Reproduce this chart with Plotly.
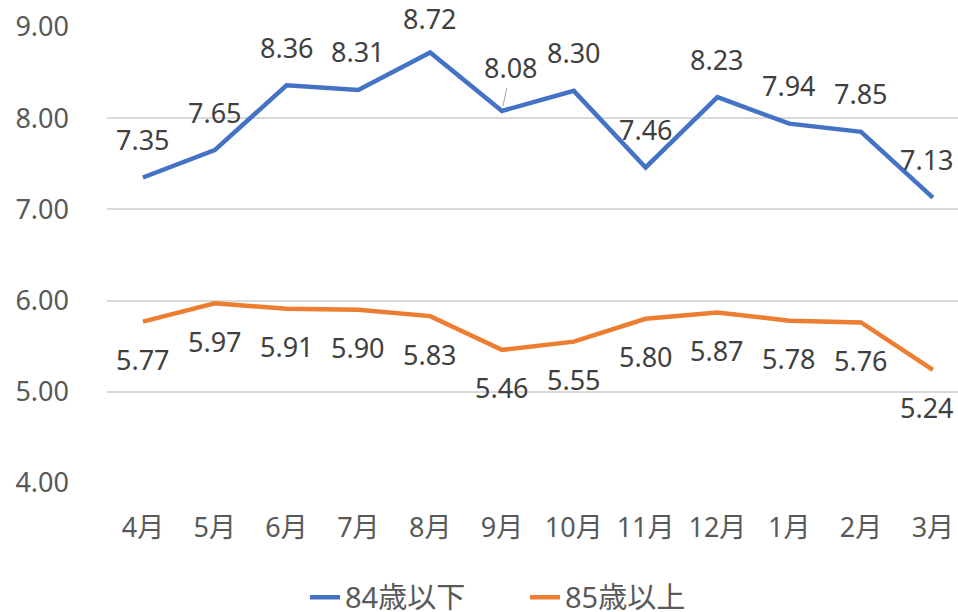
import plotly.graph_objects as go

months = ["4月", "5月", "6月", "7月", "8月", "9月", "10月", "11月", "12月", "1月", "2月", "3月"]
under84 = [7.35, 7.65, 8.36, 8.31, 8.72, 8.08, 8.30, 7.46, 8.23, 7.94, 7.85, 7.13]
over85 = [5.77, 5.97, 5.91, 5.90, 5.83, 5.46, 5.55, 5.80, 5.87, 5.78, 5.76, 5.24]
series_names = ["84歳以下", "85歳以上"]
y_ticks = [4.0, 5.0, 6.0, 7.0, 8.0, 9.0]

BLUE = "#4472C4"
ORANGE = "#ED7D31"
TXT = "#595959"
LBL = "#404040"
FONT = "Noto Sans, Noto Sans CJK JP, sans-serif"
FS = 27

fig = go.Figure()
fig.add_trace(go.Scatter(x=months, y=under84, mode="lines", name=series_names[0],
                         line=dict(color=BLUE, width=4.5), cliponaxis=False))
fig.add_trace(go.Scatter(x=months, y=over85, mode="lines", name=series_names[1],
                         line=dict(color=ORANGE, width=4.5), cliponaxis=False))

top_val = max(under84)
last = months[-1]
annos = []
for m, v in zip(months, under84):
    if m == "9月":
        annos.append(dict(x=m, y=v, text=f"{v:.2f}", showarrow=True, arrowhead=0,
                          arrowwidth=1, arrowcolor="#a6a6a6", ax=9, ay=-43,
                          standoff=5, font=dict(size=FS, color=LBL, family=FONT)))
    else:
        annos.append(dict(x=m, y=v, text=f"{v:.2f}", showarrow=False,
                          yshift=34 if v == top_val else 38,
                          xshift=-6 if m == last else 0,
                          font=dict(size=FS, color=LBL, family=FONT)))
for m, v in zip(months, over85):
    annos.append(dict(x=m, y=v, text=f"{v:.2f}", showarrow=False, yshift=-38,
                      xshift=-6 if m == last else 0,
                      font=dict(size=FS, color=LBL, family=FONT)))

fig.update_layout(
    width=958, height=612,
    margin=dict(l=107, r=0, t=27, b=129, autoexpand=False),
    paper_bgcolor="white", plot_bgcolor="white",
    font=dict(family=FONT, size=FS, color=TXT),
    showlegend=True,
    legend=dict(orientation="h", x=0.548, xref="container", xanchor="center",
                y=0.024, yref="container", yanchor="middle",
                font=dict(size=29, color=TXT), itemwidth=30, tracegroupgap=0,
                entrywidth=175, entrywidthmode="pixels"),
    annotations=annos,
)
fig.update_xaxes(range=[-0.5, 11.35], showgrid=False, showline=False, ticks="",
                 tickfont=dict(size=FS, color=TXT), ticklabelstandoff=26, automargin=False)
fig.update_yaxes(range=[4.0, 9.0], tickvals=y_ticks, tickformat=".2f",
                 showgrid=True, gridcolor="#d9d9d9", gridwidth=1.5, zeroline=False,
                 showline=False, ticks="", tickfont=dict(size=FS, color=TXT),
                 ticklabelstandoff=37, automargin=False)

fig.write_html("out.html", config={"displayModeBar": False},
               post_script="document.body.style.margin='0px';document.body.style.overflow='hidden';")
